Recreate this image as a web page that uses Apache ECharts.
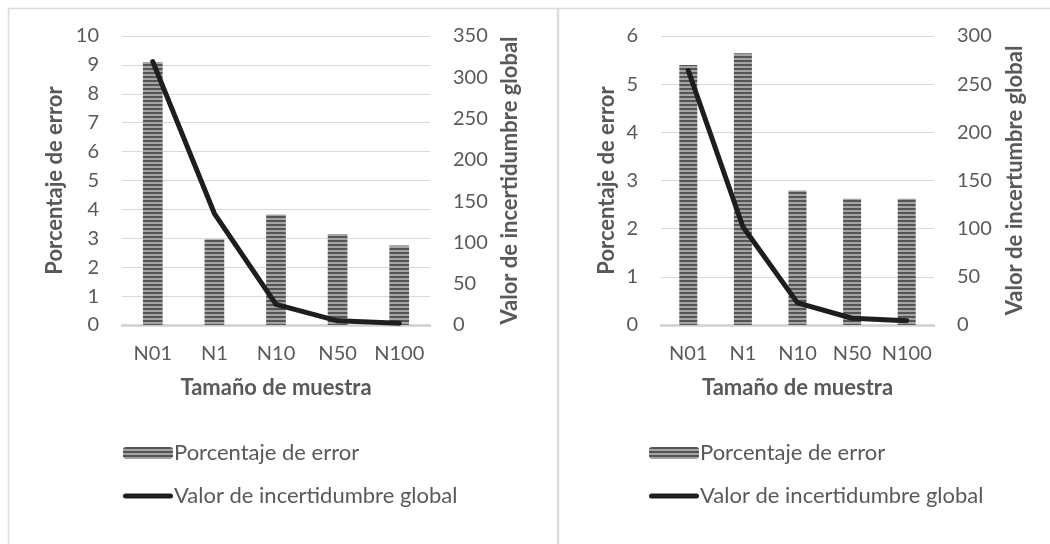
<!DOCTYPE html>
<html>
<head>
<meta charset="utf-8">
<script src="https://cdn.jsdelivr.net/npm/echarts@6/dist/echarts.min.js"></script>
<style>
  html, body { margin: 0; padding: 0; background: #fff; }
  #chart { width: 1050px; height: 544px; }
</style>
</head>
<body>
<div id="chart"></div>
<script>
// Sample sizes on the category axis
const categories = ['N01', 'N1', 'N10', 'N50', 'N100'];

// Left panel
const errorPctA = [9.1, 2.97, 3.82, 3.15, 2.75];
const uncertaintyA = [319, 135, 25, 5, 2];

// Right panel
const errorPctB = [5.4, 5.64, 2.79, 2.62, 2.62];
const uncertaintyB = [264, 102, 23, 7, 4.5];

const barName = 'Porcentaje de error';
const lineName = 'Valor de incertidumbre global';
const xTitle = 'Tamaño de muestra';
const yTitleLeft = 'Porcentaje de error';
const yTitleRightA = 'Valor de incertidumbre global';
const yTitleRightB = 'Valor de incertumbre global';

const FONT = 'Lato, "Open Sans", sans-serif';
const TEXT = '#595959';
const GRID = '#d9d9d9';
const INK = '#1e1e1e';

// Horizontal-stripe fill for the bars
function stripePattern() {
  const c = document.createElement('canvas');
  c.width = 4; c.height = 4;
  const g = c.getContext('2d');
  g.fillStyle = '#a4a4a4'; g.fillRect(0, 0, 4, 4);
  g.fillStyle = '#555555'; g.fillRect(0, 0, 4, 2);
  return { image: c, repeat: 'repeat' };
}
const stripes = stripePattern();

function xAxisFor(gridIndex) {
  return {
    type: 'category', gridIndex, data: categories,
    name: xTitle, nameLocation: 'middle', nameGap: 52,
    nameTextStyle: { color: TEXT, fontSize: 22, fontWeight: 'bold', fontFamily: FONT },
    axisLine: { lineStyle: { color: '#d0d0d0', width: 2.5 } },
    axisTick: { show: false },
    axisLabel: { color: TEXT, fontSize: 20, fontFamily: FONT, margin: 19, interval: 0 },
    splitLine: { show: false }
  };
}

function yAxisFor(gridIndex, max, interval, name, nameGap, position, split) {
  return {
    type: 'value', gridIndex, min: 0, max, interval, position,
    name, nameLocation: 'middle', nameGap,
    nameRotate: 90,
    nameTextStyle: { color: TEXT, fontSize: 22, fontWeight: 'bold', fontFamily: FONT },
    axisLine: { show: false }, axisTick: { show: false },
    axisLabel: { color: TEXT, fontSize: 20, fontFamily: FONT, margin: 23 },
    splitLine: { show: split, lineStyle: { color: GRID, width: 1 } }
  };
}

function barSeries(xi, yi, data, width) {
  return {
    name: barName, type: 'bar', xAxisIndex: xi, yAxisIndex: yi, data,
    barWidth: width, itemStyle: { color: stripes }, z: 2
  };
}
function lineSeries(xi, yi, data) {
  return {
    name: lineName, type: 'line', xAxisIndex: xi, yAxisIndex: yi, data,
    symbol: 'none', lineStyle: { color: INK, width: 5, cap: 'round', join: 'round' },
    itemStyle: { color: INK }, z: 3
  };
}

// Thick rounded stroke used as the line-series key
const lineKey = 'path://M5,0L95,0A5,5,0,0,1,95,10L5,10A5,5,0,0,1,5,0Z';

function legendAt(left) {
  return {
    left, top: 437, orient: 'vertical',
    itemWidth: 50, itemHeight: 12, itemGap: 21,
    textStyle: { color: TEXT, fontSize: 22, fontFamily: FONT, padding: [0, 0, 0, -4] },
    data: [barName, { name: lineName, icon: lineKey, itemStyle: { color: INK } }],
    selectedMode: false
  };
}

const chart = echarts.init(document.getElementById('chart'));
chart.setOption({
  backgroundColor: '#fff',
  animation: false,
  grid: [
    { left: 122, top: 36, width: 308, height: 289 },
    { left: 661, top: 36, width: 273, height: 289 }
  ],
  xAxis: [xAxisFor(0), xAxisFor(1)],
  yAxis: [
    yAxisFor(0, 10, 1, yTitleLeft, 56, 'left', true),
    yAxisFor(0, 350, 50, yTitleRightA, 69, 'right', false),
    yAxisFor(1, 6, 1, yTitleLeft, 43, 'left', true),
    yAxisFor(1, 300, 50, yTitleRightB, 70, 'right', false)
  ],
  legend: [legendAt(118), legendAt(644)],
  series: [
    barSeries(0, 0, errorPctA, '32%'),
    lineSeries(0, 1, uncertaintyA),
    barSeries(1, 2, errorPctB, '33%'),
    lineSeries(1, 3, uncertaintyB)
  ],
  graphic: [
    // panel frames
    { type: 'rect', shape: { x: 8.5, y: 8.5, width: 549, height: 560 },
      style: { fill: 'none', stroke: '#dcdcdc', lineWidth: 1.5 }, silent: true },
    { type: 'rect', shape: { x: 558.5, y: 8.5, width: 500, height: 560 },
      style: { fill: 'none', stroke: '#dcdcdc', lineWidth: 1.5 }, silent: true }
  ]
});
</script>
</body>
</html>
